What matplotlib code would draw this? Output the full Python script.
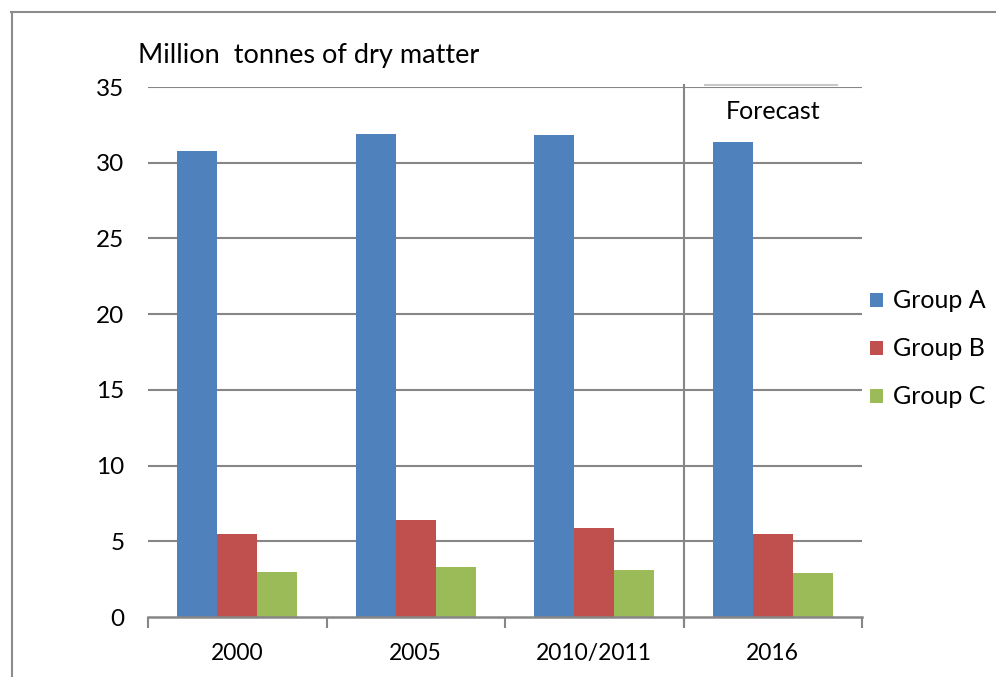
import matplotlib
matplotlib.use("Agg")
import matplotlib.pyplot as plt
from matplotlib.lines import Line2D
import numpy as np

categories = ["2000", "2005", "2010/2011", "2016"]
group_a = [30.8, 31.9, 31.8, 31.4]
group_b = [5.5, 6.4, 5.9, 5.5]
group_c = [3.0, 3.3, 3.1, 2.9]
series_names = ["Group A", "Group B", "Group C"]
colors = ["#4F81BD", "#C0504D", "#9BBB59"]
yticks = [0, 5, 10, 15, 20, 25, 30, 35]

plt.rcParams['font.family'] = ['Lato', 'DejaVu Sans']
W, H = 996, 677
fig = plt.figure(figsize=(W / 100, H / 100), dpi=100)
ax = fig.add_axes([148 / W, (H - 617) / H, (862 - 148) / W, (617 - 87) / H])

x = np.arange(len(categories))
bw = 0.224
for i, (vals, name, c) in enumerate(zip([group_a, group_b, group_c], series_names, colors)):
    ax.bar(x + (i - 1) * bw, vals, width=bw, color=c, label=name, zorder=3,
           edgecolor='none')

grid_c = "#868686"
ax.set_ylim(0, 35)
ax.set_xlim(-0.5, len(categories) - 0.5)
ax.set_yticks(yticks)
ax.set_yticklabels([str(v) for v in yticks], fontsize=17.5)
ax.tick_params(axis='y', length=0, pad=17)
for v in yticks[1:]:
    ax.axhline(v, color=grid_c, lw=1.5, zorder=1)
for s in ['left', 'right', 'top']:
    ax.spines[s].set_visible(False)
ax.spines['bottom'].set_color(grid_c)
ax.spines['bottom'].set_linewidth(1.8)
ax.spines['bottom'].set_zorder(4)

ax.set_xticks(x)
ax.set_xticklabels(categories, fontsize=16.5)
ax.tick_params(axis='x', which='major', length=0, pad=19)
ax.set_xticks(np.arange(-0.5, len(categories)), minor=True)
ax.tick_params(axis='x', which='minor', length=8, width=1.5, color=grid_c, direction='out')

# Forecast separator
ax.add_line(Line2D([2.5, 2.5], [-0.6, 35.15], color=grid_c, lw=1.5, clip_on=False, zorder=2))
ax.add_line(Line2D([2.62, 3.36], [35.12, 35.12], color="#c8c8c8", lw=1.5, clip_on=False, zorder=2))
ax.text(3.0, 33.4, "Forecast", ha='center', va='center', fontsize=18)

fig.text(138 / W, 1 - 55 / H, "Million  tonnes of dry matter", fontsize=19.5,
         ha='left', va='center')

leg = fig.legend(loc='center left', bbox_to_anchor=(870 / W, 1 - 349 / H),
                 frameon=False, fontsize=18, handlelength=0.5, handleheight=0.5,
                 handletextpad=0.4, labelspacing=1.0, borderpad=0, borderaxespad=0)

# Outer frame
border_c = "#8c8c8c"
fig.add_artist(Line2D([11 / W, 1.0], [1 - 12 / H, 1 - 12 / H], color=border_c, lw=1.5,
                      transform=fig.transFigure))
fig.add_artist(Line2D([12 / W, 12 / W], [0, 1 - 12 / H], color=border_c, lw=1.5,
                      transform=fig.transFigure))

fig.savefig("out.png", dpi=100)
